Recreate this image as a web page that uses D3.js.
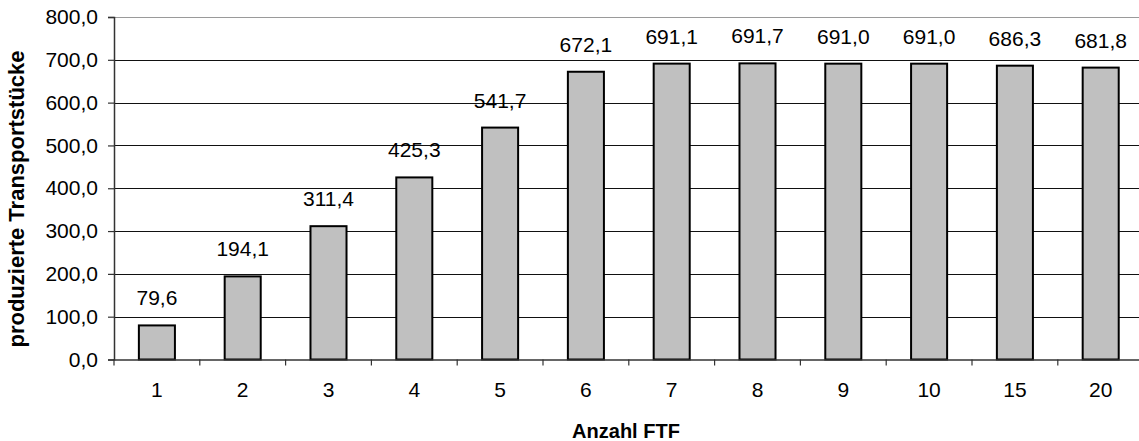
<!DOCTYPE html>
<html>
<head>
<meta charset="utf-8">
<script src="https://cdn.jsdelivr.net/npm/d3@7"></script>
<style>
  html, body { margin: 0; padding: 0; background: #fff; }
  svg { display: block; }
  text { font-family: "Liberation Sans", Arial, sans-serif; fill: #000; }
</style>
</head>
<body>
<svg id="chart" width="1139" height="441"></svg>
<script>
// Number of AGVs (FTF) and transported pieces produced
const categories = ["1", "2", "3", "4", "5", "6", "7", "8", "9", "10", "15", "20"];
const values = [79.6, 194.1, 311.4, 425.3, 541.7, 672.1, 691.1, 691.7, 691.0, 691.0, 686.3, 681.8];
const yTicks = [0, 100, 200, 300, 400, 500, 600, 700, 800];
const yTitle = "produzierte Transportstücke";
const xTitle = "Anzahl FTF";

const de = d3.formatLocale({ decimal: ",", thousands: ".", grouping: [3], currency: ["", " €"] });
const fmt = de.format(".1f");

const svg = d3.select("#chart");
const plotLeft = 114, plotRight = 1143.6, plotTop = 17, plotBottom = 359.5;

const x = d3.scaleBand().domain(categories).range([plotLeft, plotRight]).paddingInner(0).paddingOuter(0);
const y = d3.scaleLinear().domain([0, 800]).range([plotBottom, plotTop]);
const barW = x.bandwidth() * 0.42;

// horizontal gridlines (snapped to whole pixels)
const snap = v => Math.round(v) + 0.5;
svg.append("g").selectAll("line")
  .data(yTicks.filter(d => d > 0))
  .join("line")
  .attr("x1", plotLeft).attr("x2", plotRight)
  .attr("y1", d => snap(y(d))).attr("y2", d => snap(y(d)))
  .attr("stroke", d => d === 800 ? "#9a9a9a" : "#111")
  .attr("stroke-width", 1);

// bars
svg.append("g").selectAll("rect")
  .data(values)
  .join("rect")
  .attr("x", (d, i) => x(categories[i]) + (x.bandwidth() - barW) / 2)
  .attr("y", d => y(d))
  .attr("width", barW)
  .attr("height", d => y(0) - y(d))
  .attr("fill", "#c0c0c0")
  .attr("stroke", "#000")
  .attr("stroke-width", 2);

// value labels
svg.append("g").selectAll("text")
  .data(values)
  .join("text")
  .attr("x", (d, i) => x(categories[i]) + x.bandwidth() / 2)
  .attr("y", d => y(d) - 20)
  .attr("text-anchor", "middle")
  .style("font-size", "21px")
  .text(d => fmt(d));

// y axis
const yAxis = svg.append("g")
  .attr("transform", `translate(${plotLeft},0)`)
  .call(d3.axisLeft(y).tickValues(yTicks).tickFormat(fmt).tickSize(6).tickPadding(10));
yAxis.select(".domain").attr("stroke", "#333").attr("stroke-width", 1.5);
yAxis.selectAll(".tick line").attr("stroke", "#333").attr("stroke-width", 1.2);
yAxis.selectAll("text").style("font-size", "21px").attr("font-family", null);

// x axis: labels at category centres
const xAxis = svg.append("g")
  .attr("transform", `translate(0,${plotBottom})`)
  .call(d3.axisBottom(x).tickSize(0).tickPadding(22.5));
xAxis.select(".domain").attr("stroke", "#333").attr("stroke-width", 1.5);
xAxis.selectAll("text").style("font-size", "21px").attr("font-family", null);

// x tick marks at category boundaries
svg.append("g").selectAll("line")
  .data(categories.map(c => x(c)).concat([plotRight]))
  .join("line")
  .attr("x1", d => d).attr("x2", d => d)
  .attr("y1", plotBottom).attr("y2", plotBottom + 6)
  .attr("stroke", "#333").attr("stroke-width", 1.2);

// axis titles
svg.append("text")
  .attr("transform", `translate(24,${199}) rotate(-90)`)
  .attr("text-anchor", "middle")
  .style("font-size", "22px")
  .style("font-weight", "bold")
  .text(yTitle);

svg.append("text")
  .attr("x", 626)
  .attr("y", 438)
  .attr("text-anchor", "middle")
  .style("font-size", "20px")
  .style("font-weight", "bold")
  .text(xTitle);
</script>
</body>
</html>
